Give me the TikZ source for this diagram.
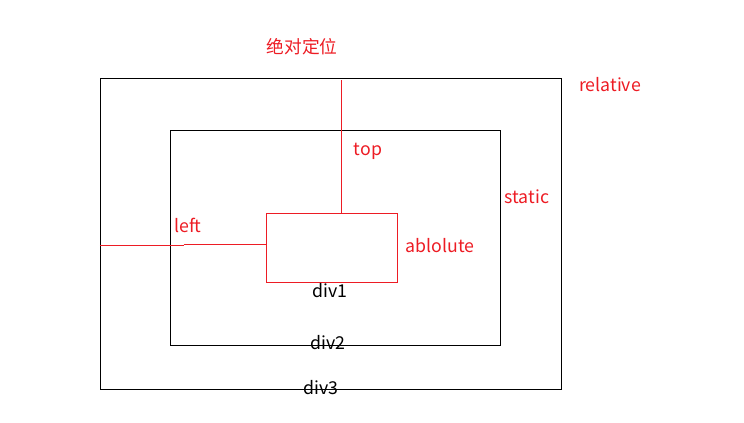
\documentclass[tikz,border=0pt]{standalone}
\usepackage{fontspec}
\setmainfont{Noto Sans CJK SC}
\definecolor{pred}{RGB}{237,28,36}
\begin{document}
\begin{tikzpicture}[x=1bp,y=-1bp,
  box/.style={draw,line width=1bp,inner sep=0pt},
  txt/.style={font=\fontsize{17.8}{20}\selectfont,inner sep=0pt},
  rtxt/.style={txt,text=pred}]

\useasboundingbox (0,0) rectangle (744,422);

% div3 / div2 / div1
\node[box,minimum width=461bp,minimum height=311bp] (div3) at (331,234) {};
\node[box,minimum width=330bp,minimum height=215bp] (div2) at (335.5,238) {};
\node[box,draw=pred,minimum width=131bp,minimum height=69bp] (div1) at (332,248) {};

% top / left
\coordinate (topend) at (341.5,80);
\draw[pred,line width=1bp] (topend) -- (topend |- div1.north);
\draw[pred,line width=1bp] (div3.west |- 0,245.5) -- (183.5,245.5);
\draw[pred,line width=1bp] (183.5,244.5) -- (div1.west |- 0,244.5);

% labels
\node[rtxt] (title) at (302,47) {绝对定位};
\node[rtxt] (rel) at (610,85) {relative};
\node[rtxt] (top) at (368,151) {top};
\node[rtxt] (stat) at (527,197) {static};
\node[rtxt] (lft) at (188,225) {left};
\node[rtxt] (abs) at (440,246) {ablolute};

\node[txt] (t1) at (330,291) {div1};
\node[txt] (t2) at (328,343) {div2};
\node[txt] (t3) at (321,388) {div3};

\end{tikzpicture}
\end{document}
